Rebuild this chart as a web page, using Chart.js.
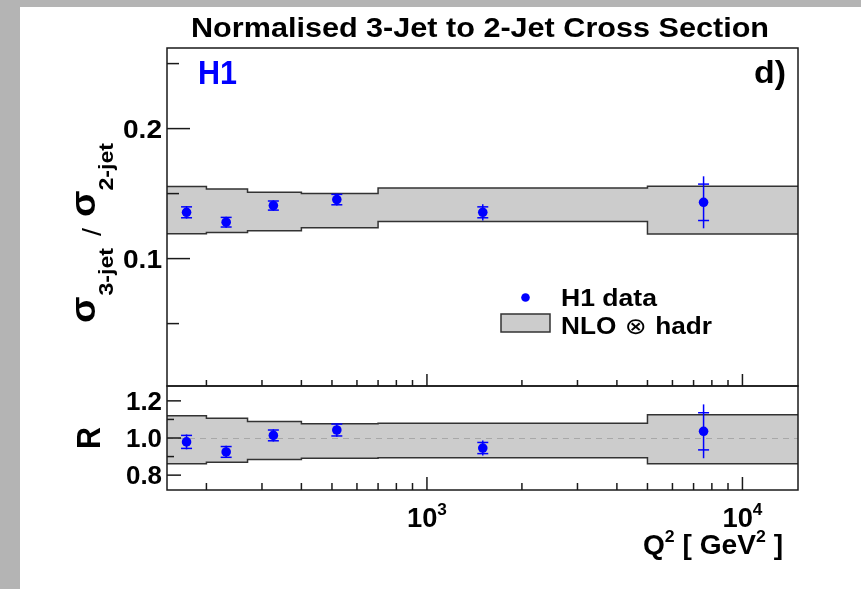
<!DOCTYPE html>
<html lang="en">
<head>
<meta charset="UTF-8">
<title>Normalised 3-Jet to 2-Jet Cross Section</title>
<script src="https://cdn.jsdelivr.net/npm/chart.js@4.4.0/dist/chart.umd.min.js"></script>
<style>
  body { margin: 0; background: #fff; }
  #page { position: relative; width: 861px; height: 589px; overflow: hidden; background: #fff; }
  .edge { position: absolute; background: #b4b4b4; }
  canvas { position: absolute; left: 0; top: 0; }
</style>
</head>
<body>
<div id="page">
  <div class="edge" style="left:0;top:0;width:20px;height:589px"></div>
  <div class="edge" style="left:0;top:0;width:861px;height:7px"></div>
  <canvas id="ratioChart" width="861" height="589"></canvas>
  <canvas id="rChart" width="861" height="589"></canvas>
</div>
<script>
const FONT = "'Liberation Sans', Arial, 'DejaVu Sans', sans-serif";
const BLUE = '#0000ff';

// Q2 bins [GeV^2] and bin centres
const binEdges = [150, 200, 270, 400, 700, 5000, 15000];
const q2Centres = [173, 231, 326, 518, 1503, 7530];

// sigma(3-jet) / sigma(2-jet)
const ratioValues = [0.1356, 0.1280, 0.1408, 0.1454, 0.1356, 0.1433];
const ratioStat   = [0.0042, 0.0037, 0.0035, 0.0040, 0.0042, 0.0140];
const ratioTotal  = [0.0048, 0.0042, 0.0040, 0.0046, 0.0062, 0.0200];
const nloUpper    = [0.1554, 0.1536, 0.1510, 0.1500, 0.1544, 0.1556];
const nloLower    = [0.1192, 0.1200, 0.1215, 0.1238, 0.1285, 0.1190];

// R = data / theory
const rValues   = [0.979, 0.925, 1.014, 1.043, 0.946, 1.036];
const rStat     = [0.035, 0.029, 0.029, 0.032, 0.030, 0.100];
const rTotal    = [0.040, 0.033, 0.033, 0.036, 0.040, 0.145];
const rNloUpper = [1.120, 1.107, 1.089, 1.077, 1.080, 1.125];
const rNloLower = [0.861, 0.869, 0.884, 0.891, 0.893, 0.861];

// axis ticks
const xMajorTicks = [1000, 10000];
const xMajorExponents = ['3', '4'];
const xMinorTicks = [200, 300, 400, 500, 600, 700, 800, 900,
                     2000, 3000, 4000, 5000, 6000, 7000, 8000, 9000];
const ratioMajorTicks = [0.1, 0.2];
const ratioTickLabels = ['0.1', '0.2'];
const ratioMinorTicks = [0.05, 0.15, 0.25];
const rMajorTicks = [0.8, 1.0, 1.2];
const rTickLabels = ['0.8', '1.0', '1.2'];
const rMinorTicks = [0.9, 1.1];

// --- helpers ---------------------------------------------------------

function stepPoints(values) {
  const pts = [];
  values.forEach((v, i) => {
    pts.push({ x: binEdges[i], y: v }, { x: binEdges[i + 1], y: v });
  });
  return pts;
}

// draw a row of text pieces (size / vertical shift each), optionally squeezed to a width
function drawRuns(ctx, runs, x, y, align, width, color) {
  ctx.save();
  ctx.fillStyle = color || '#000';
  let total = 0;
  runs.forEach(r => {
    ctx.font = (r.weight || 'bold') + ' ' + r.size + 'px ' + FONT;
    r.w = ctx.measureText(r.t).width + (r.gap || 0);
    total += r.w;
  });
  const sx = width ? width / total : 1;
  let left = x;
  if (align === 'center') left = x - total * sx / 2;
  else if (align === 'right') left = x - total * sx;
  ctx.translate(left, y);
  ctx.scale(sx, 1);
  ctx.textAlign = 'left';
  ctx.textBaseline = 'alphabetic';
  let cx = 0;
  runs.forEach(r => {
    ctx.font = (r.weight || 'bold') + ' ' + r.size + 'px ' + FONT;
    ctx.fillText(r.t, cx + (r.gap || 0) / 2, r.dy || 0);
    cx += r.w;
  });
  ctx.restore();
}

function line(ctx, x1, y1, x2, y2) {
  ctx.beginPath();
  ctx.moveTo(x1, y1);
  ctx.lineTo(x2, y2);
  ctx.stroke();
}

function drawErrorBars(chart, values, stat, total) {
  const ctx = chart.ctx, xs = chart.scales.x, ys = chart.scales.y;
  ctx.save();
  ctx.strokeStyle = BLUE;
  ctx.lineWidth = 1.5;
  q2Centres.forEach((q, i) => {
    const px = xs.getPixelForValue(q);
    line(ctx, px, ys.getPixelForValue(values[i] - total[i]), px, ys.getPixelForValue(values[i] + total[i]));
    [values[i] - stat[i], values[i] + stat[i]].forEach(v => {
      const py = ys.getPixelForValue(v);
      line(ctx, px - 5.5, py, px + 5.5, py);
    });
  });
  ctx.restore();
}

function drawFrameAndTicks(chart, major, labels, minor, yMajorLen, yMinorLen, xMajorLen, xMinorLen, labelSize, labelWidth) {
  const ctx = chart.ctx, xs = chart.scales.x, ys = chart.scales.y;
  const { left, right, top, bottom } = chart.chartArea;
  ctx.save();
  ctx.strokeStyle = '#1a1a1a';
  ctx.lineWidth = 1.5;
  ctx.strokeRect(left, top, right - left, bottom - top);
  major.forEach((v, i) => {
    const py = ys.getPixelForValue(v);
    line(ctx, left, py, left + yMajorLen, py);
    drawRuns(ctx, [{ t: labels[i], size: labelSize }], 162, py + labelSize * 0.36, 'right', labelWidth);
  });
  minor.forEach(v => {
    const py = ys.getPixelForValue(v);
    line(ctx, left, py, left + yMinorLen, py);
  });
  xMajorTicks.forEach(v => {
    const px = xs.getPixelForValue(v);
    line(ctx, px, bottom, px, bottom - xMajorLen);
  });
  xMinorTicks.forEach(v => {
    const px = xs.getPixelForValue(v);
    line(ctx, px, bottom, px, bottom - xMinorLen);
  });
  ctx.restore();
}

function panelConfig(points, upper, lower, yMin, yMax, padding, plugin) {
  return {
    type: 'scatter',
    data: {
      datasets: [
        { data: points, order: 0, showLine: false, pointRadius: 4.8,
          pointBackgroundColor: BLUE, pointBorderWidth: 0 },
        { type: 'line', data: stepPoints(upper), order: 2, fill: '+1',
          backgroundColor: '#cccccc', borderColor: '#333333', borderWidth: 1.5,
          pointRadius: 0, tension: 0 },
        { type: 'line', data: stepPoints(lower), order: 1, fill: false,
          borderColor: '#333333', borderWidth: 1.5, pointRadius: 0, tension: 0 }
      ]
    },
    options: {
      responsive: false,
      animation: false,
      layout: { padding },
      plugins: { legend: { display: false }, tooltip: { enabled: false }, title: { display: false } },
      scales: {
        x: { type: 'logarithmic', min: 150, max: 15000, display: false },
        y: { type: 'linear', min: yMin, max: yMax, display: false }
      }
    },
    plugins: [plugin]
  };
}

// --- upper panel: normalised ratio ----------------------------------

const ratioPlugin = {
  id: 'ratioPanel',
  beforeDatasetDraw(chart, args) {
    if (args.index === 0) drawErrorBars(chart, ratioValues, ratioStat, ratioTotal);
  },
  afterDraw(chart) {
    const ctx = chart.ctx;
    drawFrameAndTicks(chart, ratioMajorTicks, ratioTickLabels, ratioMinorTicks, 23, 12, 12, 6, 26, 39);

    drawRuns(ctx, [{ t: 'Normalised 3-Jet to 2-Jet Cross Section', size: 28 }], 480, 37, 'center', 578);
    drawRuns(ctx, [{ t: 'H1', size: 33 }], 198, 84, 'left', 39, BLUE);
    drawRuns(ctx, [{ t: 'd)', size: 32 }], 786, 83, 'right', 32);

    // legend
    ctx.save();
    ctx.fillStyle = BLUE;
    ctx.beginPath();
    ctx.arc(525.5, 297.5, 4.3, 0, Math.PI * 2);
    ctx.fill();
    ctx.fillStyle = '#cccccc';
    ctx.strokeStyle = '#333333';
    ctx.lineWidth = 1.5;
    ctx.fillRect(501, 314, 49, 18);
    ctx.strokeRect(501, 314, 49, 18);
    ctx.restore();
    drawRuns(ctx, [{ t: 'H1 data', size: 23 }], 561, 306, 'left', 96);
    drawRuns(ctx, [{ t: 'NLO ', size: 23 }, { t: '\u2297', size: 23, weight: 'normal', gap: 2 },
                   { t: ' hadr', size: 23 }], 561, 334, 'left', 151);

    // y axis title
    ctx.save();
    ctx.translate(95, 323);
    ctx.rotate(-Math.PI / 2);
    drawRuns(ctx, [
      { t: '\u03c3', size: 35 },
      { t: '3-jet', size: 21, dy: 18, gap: 2 },
      { t: '/', size: 26, dy: 6, gap: 20, weight: 'normal' },
      { t: '\u03c3', size: 35 },
      { t: '2-jet', size: 21, dy: 18 }
    ], 0, 0, 'left', 180);
    ctx.restore();
  }
};

new Chart(document.getElementById('ratioChart'), panelConfig(
  q2Centres.map((q, i) => ({ x: q, y: ratioValues[i] })),
  nloUpper, nloLower, 0.002, 0.262,
  { left: 167, right: 63, top: 48, bottom: 203 },
  ratioPlugin
));

// --- lower panel: data / theory -------------------------------------

const rPlugin = {
  id: 'rPanel',
  beforeDatasetDraw(chart, args) {
    if (args.index !== 0) return;
    const ctx = chart.ctx, ys = chart.scales.y;
    const { left, right } = chart.chartArea;
    ctx.save();
    ctx.strokeStyle = '#a8a8a8';
    ctx.lineWidth = 1;
    ctx.setLineDash([6, 5]);
    const py = Math.round(ys.getPixelForValue(1.0)) + 0.5;
    line(ctx, left, py, right, py);
    ctx.restore();
    drawErrorBars(chart, rValues, rStat, rTotal);
  },
  afterDraw(chart) {
    const ctx = chart.ctx, xs = chart.scales.x;
    drawFrameAndTicks(chart, rMajorTicks, rTickLabels, rMinorTicks, 14, 7, 13, 7, 25, 36);

    xMajorTicks.forEach((v, i) => {
      drawRuns(ctx, [{ t: '10', size: 27 }, { t: xMajorExponents[i], size: 17, dy: -12 }],
               xs.getPixelForValue(v), 527, 'center', 40);
    });
    drawRuns(ctx, [
      { t: 'Q', size: 27 }, { t: '2', size: 17, dy: -12 },
      { t: ' [ GeV', size: 27 }, { t: '2', size: 17, dy: -12 }, { t: ' ]', size: 27 }
    ], 783, 554, 'right', 140);

    ctx.save();
    ctx.translate(100, 438);
    ctx.rotate(-Math.PI / 2);
    drawRuns(ctx, [{ t: 'R', size: 33 }], 0, 0, 'center', 22);
    ctx.restore();
  }
};

new Chart(document.getElementById('rChart'), panelConfig(
  q2Centres.map((q, i) => ({ x: q, y: rValues[i] })),
  rNloUpper, rNloLower, 0.72, 1.28,
  { left: 167, right: 63, top: 386, bottom: 99 },
  rPlugin
));
</script>
</body>
</html>
